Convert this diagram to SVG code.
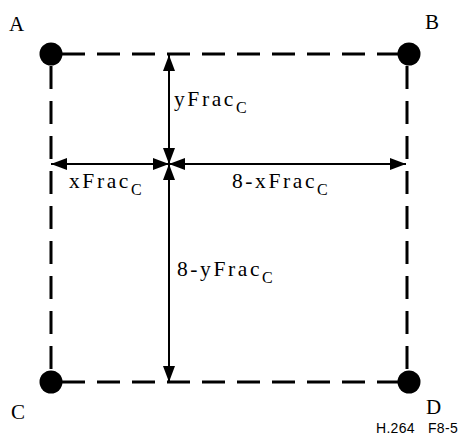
<svg xmlns="http://www.w3.org/2000/svg" width="460" height="439" viewBox="0 0 460 439">
<defs>
<style>
.edge{fill:none;stroke:#000;stroke-width:3;stroke-dasharray:23 12}
.arr{fill:none;stroke:#000;stroke-width:2;marker-start:url(#ah);marker-end:url(#ah)}
.dot{fill:#000}
.lbl{font-family:"Liberation Serif","Times New Roman",serif;font-size:21px;fill:#000}
.lab{font-family:"Liberation Serif","Times New Roman",serif;font-size:21.5px;letter-spacing:2.6px;fill:#000}
.sub{font-size:16px;letter-spacing:0}
.cap{font-family:"Liberation Sans",Arial,sans-serif;font-size:14px;letter-spacing:0.3px;fill:#000}
</style>
<marker id="ah" viewBox="0 0 16 12" refX="16" refY="6" markerWidth="16" markerHeight="12" markerUnits="userSpaceOnUse" orient="auto-start-reverse">
<path d="M0,0 L16,6 L0,12 Z" fill="#000"/>
</marker>
</defs>
<g id="connectors">
<line class="edge" x1="62" y1="54" x2="398" y2="54"/>
<line class="edge" x1="62" y1="382" x2="398" y2="382"/>
<line class="edge" x1="51" y1="66" x2="51" y2="371"/>
<line class="edge" x1="407" y1="66" x2="407" y2="371"/>
<line class="arr" x1="169" y1="55" x2="169" y2="164"/>
<line class="arr" x1="169" y1="164" x2="169" y2="382"/>
<line class="arr" x1="51" y1="164" x2="169" y2="164"/>
<line class="arr" x1="169" y1="164" x2="406" y2="164"/>
</g>
<g id="A"><circle class="dot" cx="51" cy="54" r="11.5"/><text class="lbl" x="9" y="31">A</text></g>
<g id="B"><circle class="dot" cx="409" cy="54" r="11.5"/><text class="lbl" x="425" y="29">B</text></g>
<g id="C"><circle class="dot" cx="51" cy="382" r="11.5"/><text class="lbl" x="11" y="419">C</text></g>
<g id="D"><circle class="dot" cx="409" cy="382" r="11.5"/><text class="lbl" x="426" y="414">D</text></g>
<g id="labels">
<text class="lab" x="174" y="106">yFrac<tspan class="sub" dy="7">C</tspan></text>
<text class="lab" x="69" y="188">xFrac<tspan class="sub" dy="7">C</tspan></text>
<text class="lab" x="232" y="188">8-xFrac<tspan class="sub" dy="7">C</tspan></text>
<text class="lab" x="177" y="276">8-yFrac<tspan class="sub" dy="7">C</tspan></text>
<text class="cap" x="376" y="433">H.264<tspan x="428">F8-5</tspan></text>
</g>
</svg>
